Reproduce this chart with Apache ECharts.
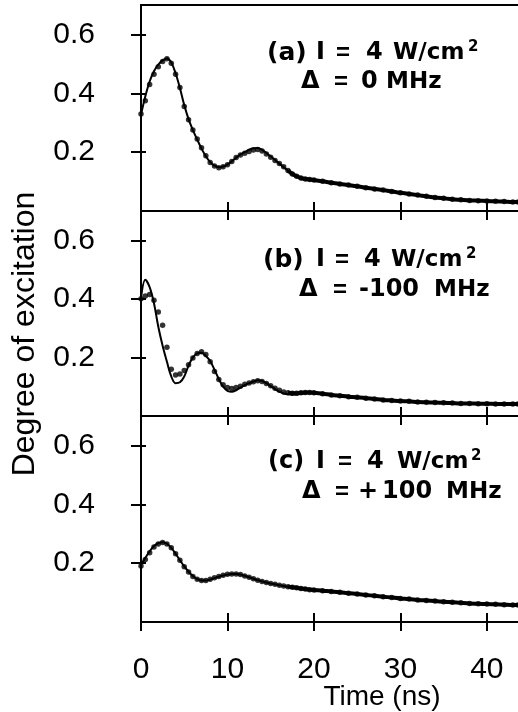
<!DOCTYPE html>
<html><head><meta charset="utf-8">
<script src="https://cdn.jsdelivr.net/npm/echarts@6/dist/echarts.min.js"></script>
<style>html,body{margin:0;padding:0;background:#fff}#c{width:518px;height:712px}</style>
</head><body><div id="c"></div>
<script>
// time samples (ns)
const times = [0,0.5,1,1.5,2,2.5,3,3.5,4,4.5,5,5.5,6,6.5,7,7.5,8,8.5,9,9.5,10,10.5,11,11.5,12,12.5,13,13.5,14,14.5,15,15.5,16,16.5,17,17.5,18,18.5,19,19.5,20,21,22,23,24,25,26,27,28,29,30,31,32,33,34,35,36,37,38,39,40,41,42,43,43.6];
// (a) Delta = 0 MHz
const dataA = [0.33,0.375,0.43,0.465,0.49,0.508,0.517,0.502,0.465,0.42,0.355,0.31,0.275,0.245,0.215,0.188,0.165,0.153,0.147,0.150,0.157,0.168,0.182,0.190,0.196,0.202,0.207,0.209,0.204,0.194,0.183,0.172,0.161,0.150,0.138,0.126,0.118,0.112,0.109,0.107,0.105,0.101,0.096,0.092,0.088,0.084,0.079,0.075,0.071,0.066,0.062,0.058,0.054,0.050,0.046,0.043,0.040,0.038,0.036,0.035,0.034,0.033,0.032,0.031,0.031];
const fitA = [0.327,0.39,0.44,0.475,0.497,0.512,0.518,0.505,0.468,0.418,0.36,0.312,0.275,0.243,0.212,0.186,0.166,0.154,0.149,0.151,0.158,0.169,0.181,0.192,0.200,0.208,0.213,0.214,0.208,0.197,0.185,0.173,0.161,0.149,0.137,0.126,0.118,0.113,0.109,0.107,0.105,0.101,0.096,0.092,0.088,0.084,0.079,0.075,0.071,0.066,0.062,0.058,0.054,0.050,0.046,0.043,0.040,0.038,0.036,0.035,0.034,0.033,0.032,0.031,0.031];
// (b) Delta = -100 MHz
const dataB = [0.40,0.41,0.415,0.395,0.355,0.31,0.235,0.16,0.14,0.143,0.155,0.175,0.198,0.213,0.219,0.21,0.185,0.152,0.125,0.107,0.097,0.094,0.097,0.102,0.108,0.113,0.117,0.120,0.118,0.111,0.103,0.095,0.088,0.082,0.079,0.078,0.078,0.079,0.080,0.080,0.079,0.076,0.072,0.069,0.066,0.064,0.061,0.058,0.055,0.053,0.051,0.050,0.048,0.047,0.046,0.045,0.044,0.043,0.043,0.042,0.042,0.041,0.041,0.041,0.041];
const fitB = [0.40,0.465,0.44,0.385,0.305,0.24,0.185,0.135,0.112,0.115,0.135,0.172,0.200,0.214,0.216,0.205,0.188,0.158,0.126,0.100,0.086,0.083,0.088,0.097,0.105,0.112,0.118,0.122,0.120,0.112,0.102,0.092,0.083,0.077,0.074,0.073,0.074,0.076,0.078,0.079,0.078,0.075,0.071,0.068,0.065,0.063,0.060,0.057,0.055,0.053,0.051,0.049,0.048,0.047,0.046,0.045,0.044,0.043,0.043,0.042,0.042,0.041,0.041,0.041,0.041];
// (c) Delta = +100 MHz
const dataC = [0.19,0.212,0.235,0.255,0.265,0.27,0.265,0.252,0.232,0.21,0.188,0.17,0.155,0.145,0.141,0.141,0.145,0.150,0.155,0.159,0.162,0.163,0.163,0.161,0.156,0.152,0.147,0.142,0.138,0.134,0.131,0.128,0.125,0.122,0.120,0.118,0.116,0.114,0.112,0.110,0.109,0.106,0.104,0.101,0.098,0.095,0.092,0.089,0.086,0.083,0.080,0.078,0.075,0.073,0.071,0.069,0.067,0.065,0.063,0.062,0.061,0.060,0.059,0.058,0.058];
const fitC = [0.195,0.218,0.24,0.258,0.268,0.271,0.266,0.252,0.232,0.21,0.189,0.171,0.156,0.146,0.141,0.141,0.144,0.149,0.154,0.158,0.161,0.163,0.163,0.161,0.157,0.152,0.147,0.142,0.138,0.134,0.131,0.128,0.125,0.122,0.120,0.118,0.116,0.114,0.112,0.110,0.109,0.106,0.104,0.101,0.098,0.095,0.092,0.089,0.086,0.083,0.080,0.078,0.075,0.073,0.071,0.069,0.067,0.065,0.063,0.062,0.061,0.060,0.059,0.058,0.058];

const xTicks = [0,10,20,30,40];
const yTicks = [0.2,0.4,0.6];
const X_MAX = 43.6, Y_MAX = 0.70;

const panels = [[dataA, fitA],[dataB, fitB],[dataC, fitC]];
const gridBoxes = [
  {left:141, top:5, width:377, height:206},
  {left:141, top:211, width:377, height:205},
  {left:141, top:416, width:377, height:206}
];
const AX = {lineStyle:{color:'#000', width:2}};
const tickFont = '"Liberation Sans Narrow","Liberation Sans",sans-serif';

const xAxis = [], yAxis = [], series = [];
const mainX = [], mainY = [];
gridBoxes.forEach((g, i) => {
  mainX.push(xAxis.length);
  xAxis.push({gridIndex:i, type:'value', position:'bottom', min:0, max:X_MAX,
    axisLine:{show:true, onZero:false, ...AX}, splitLine:{show:false},
    axisTick:{show:true, inside:true, length:9, customValues:[10,20,30,40], lineStyle:{color:'#000', width:2}},
    axisLabel:{show:false}});
  xAxis.push({gridIndex:i, type:'value', position:'top', min:0, max:X_MAX,
    axisLine:{show:true, onZero:false, ...AX}, splitLine:{show:false},
    axisTick:{show:i>0, inside:true, length:9, customValues:[10,20,30,40], lineStyle:{color:'#000', width:2}},
    axisLabel:{show:false}});
  if (i === 2) {
    xAxis.push({gridIndex:i, type:'value', position:'bottom', min:0, max:X_MAX,
      axisLine:{show:true, onZero:false, ...AX}, splitLine:{show:false},
      axisTick:{show:true, inside:false, length:9, customValues:xTicks, lineStyle:{color:'#000', width:2}},
      axisLabel:{show:true, customValues:xTicks, margin:33, color:'#000', fontSize:30, fontFamily:tickFont,
        formatter:v=>String(v)}});
  }
  mainY.push(yAxis.length);
  yAxis.push({gridIndex:i, type:'value', position:'left', min:0, max:Y_MAX,
    axisLine:{show:true, onZero:false, ...AX}, splitLine:{show:false},
    axisTick:{show:true, inside:false, length:10, customValues:yTicks, lineStyle:{color:'#000', width:2}},
    axisLabel:{show:true, customValues:yTicks, margin:46, color:'#000', fontSize:30, fontFamily:tickFont,
      formatter:v=>v.toFixed(1)}});
  yAxis.push({gridIndex:i, type:'value', position:'left', min:0, max:Y_MAX,
    axisLine:{show:false}, splitLine:{show:false},
    axisTick:{show:true, inside:true, length:5, customValues:yTicks, lineStyle:{color:'#000', width:2}},
    axisLabel:{show:false}});
});

panels.forEach(([data, fit], i) => {
  const pts = times.map((t, k) => [t, data[k]]);
  const fpts = times.map((t, k) => [t, fit[k]]);
  series.push({type:'line', xAxisIndex:mainX[i], yAxisIndex:mainY[i], data:fpts, smooth:0.35,
    showSymbol:false, lineStyle:{color:'#000', width:2}, silent:true, animation:false});
  series.push({type:'line', xAxisIndex:mainX[i], yAxisIndex:mainY[i], data:pts.filter(p=>p[0]>=17), smooth:0.3,
    showSymbol:false, lineStyle:{color:'#000', width:4}, silent:true, animation:false});
  series.push({type:'scatter', xAxisIndex:mainX[i], yAxisIndex:mainY[i], data:pts, symbol:'circle', symbolSize:5.5,
    itemStyle:{color:'#000'}, silent:true, animation:false});
});

const FD = '"DejaVu Sans", sans-serif';
const FL = '"Liberation Sans", Arial, sans-serif';
function piece(text, x, y, sz, fam) {
  return {type:'text', x:x, y:y, style:{text:text, font:'bold ' + (sz||24) + 'px ' + (fam||FD), fill:'#000', verticalAlign:'middle', align:'left'}};
}
const labels = [
  // (a)
  ['(a)',267,53,25],['I',316,53],['=',336,53,24,FL],['4',366,53],['W/cm',393,53,23],['2',468,47,15],
  ['\u0394',301,82],['=',334,82,24,FL],['0',361,82],['MHz',386,82,23],
  // (b)
  ['(b)',263,260,25],['I',316,260],['=',335,260,24,FL],['4',364,260],['W/cm',391,260,23],['2',466,254,15],
  ['\u0394',299,290],['=',333,290,24,FL],['-100',359,290],['MHz',434,290,23],
  // (c)
  ['(c)',268,462,24],['I',316,462],['=',338,462,24,FL],['4',367,462],['W/cm',397,462,23],['2',471,456,15],
  ['\u0394',302,492],['=',335,492,24,FL],['+',358,492],['100',382,492],['MHz',446,492,23]
];
const graphic = labels.map(l => piece(l[0], l[1], l[2], l[3], l[4]));
graphic.push({type:'text', x:25, y:334, rotation:Math.PI/2,
  style:{text:'Degree of excitation', font:'32px ' + FL, fill:'#000', align:'center', verticalAlign:'middle'}});
graphic.push({type:'text', x:382, y:697,
  style:{text:'Time (ns)', font:'28px ' + FL, fill:'#000', align:'center', verticalAlign:'middle'}});

const chart = echarts.init(document.getElementById('c'), null, {renderer:'canvas'});
chart.setOption({backgroundColor:'#fff', animation:false, grid:gridBoxes, xAxis, yAxis, series, graphic});
</script></body></html>
